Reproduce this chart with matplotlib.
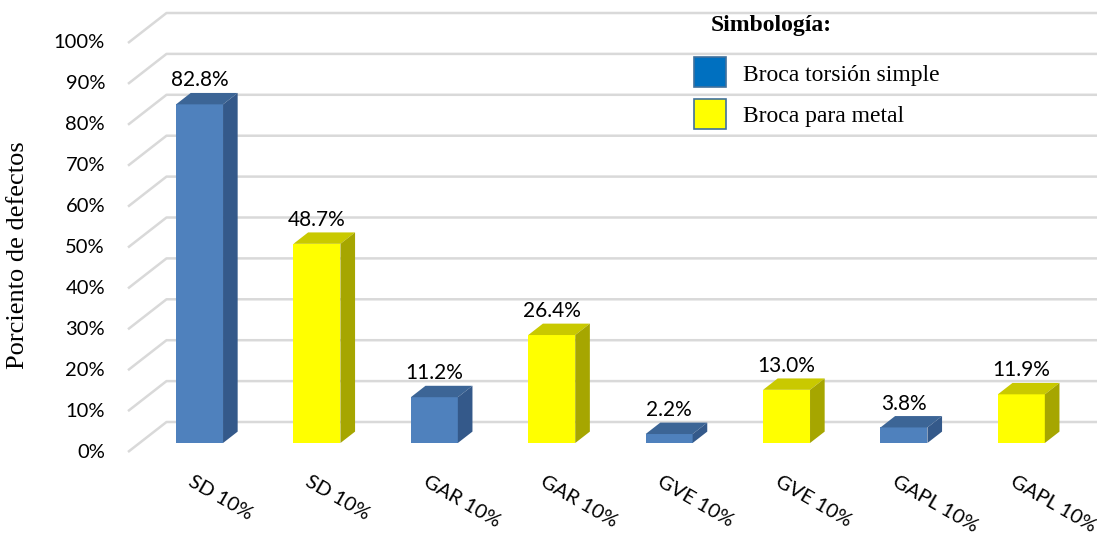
import matplotlib
matplotlib.use("Agg")
import matplotlib.pyplot as plt
from matplotlib.patches import Polygon, Rectangle

# ---- data ----
categories = ["SD 10%", "SD 10%", "GAR 10%", "GAR 10%",
              "GVE 10%", "GVE 10%", "GAPL 10%", "GAPL 10%"]
values = [82.8, 48.7, 11.2, 26.4, 2.2, 13.0, 3.8, 11.9]
series = ["Broca torsión simple", "Broca para metal"]
series_of_bar = [0, 1, 0, 1, 0, 1, 0, 1]
y_ticks = [0, 10, 20, 30, 40, 50, 60, 70, 80, 90, 100]

# ---- styling ----
FRONT = ["#4F81BD", "#FFFF00"]
TOP = ["#3C6596", "#C9C900"]
SIDE = ["#34598A", "#A6A600"]
LEGEND_FILL = ["#0070C0", "#FFFF00"]
GRID = "#D9D9D9"
NUM_FONT = ["Lato", "DejaVu Sans"]
SERIF = ["Liberation Serif", "DejaVu Serif"]

W, H, DPI = 1097, 537, 100
fig = plt.figure(figsize=(W / DPI, H / DPI), dpi=DPI)
ax = fig.add_axes([0, 0, 1, 1])
ax.set_axis_off()

# oblique projection: one category = PX pixels, one percent = PY pixels
PX, PY = 117.4, 4.09
X0_PX, Y0_PX = 188.0, 452.0
ax.set_xlim(-X0_PX / PX, (W - X0_PX) / PX)
ax.set_ylim((Y0_PX - H) / PY, Y0_PX / PY)

# full depth vector in data units
DX, DY = 38.5 / PX, 30.0 / PY
BAR_D0, BAR_T = 0.30, 0.38     # bar front depth and thickness (fraction of depth)
BAR_W = 0.40

wall_x = (128 - X0_PX) / PX
x_right = ax.get_xlim()[1]

# gridlines: diagonal on the side wall, horizontal on the back wall
for t in y_ticks:
    ax.plot([wall_x, wall_x + DX, x_right], [t, t + DY, t + DY],
            color=GRID, lw=1.8, solid_capstyle="butt", zorder=1)
    ax.text(wall_x - 23 / PX, t, f"{t}%", ha="right", va="center",
            fontsize=14.5, family=NUM_FONT, color="#000000")

# bars
for i, (v, s) in enumerate(zip(values, series_of_bar)):
    xl = i + BAR_D0 * DX - BAR_W / 2
    xr = xl + BAR_W
    bot = BAR_D0 * DY
    top = v + bot
    tdx, tdy = BAR_T * DX, BAR_T * DY
    ax.bar(xl, v, width=BAR_W, bottom=bot, align="edge",
           color=FRONT[s], linewidth=0, zorder=3)
    ax.add_patch(Polygon([(xl, top), (xr, top), (xr + tdx, top + tdy),
                          (xl + tdx, top + tdy)], closed=True,
                         facecolor=TOP[s], linewidth=0, zorder=3))
    ax.add_patch(Polygon([(xr, bot), (xr + tdx, bot + tdy),
                          (xr + tdx, top + tdy), (xr, top)], closed=True,
                         facecolor=SIDE[s], linewidth=0, zorder=3))
    # value label above the bar
    ax.text((xl + xr) / 2, top + tdy + 1.6, f"{v:.1f}%", ha="center",
            va="baseline", fontsize=15, family=NUM_FONT, zorder=4)
    # category label, rotated
    ax.text((xl + xr) / 2 - 10 / PX, -7.0, categories[i], rotation=-30,
            rotation_mode="anchor", ha="left", va="center",
            fontsize=14.5, family=NUM_FONT)

# y axis title
fig.text(18 / W, 1 - 255 / H, "Porciento de defectos", rotation=90,
         ha="center", va="center", fontsize=19, family=SERIF)

# legend block
fig.text(771 / W, 1 - 25 / H, "Simbología:", ha="center", va="center",
         fontsize=17, fontweight="bold", family=SERIF)
for k, name in enumerate(series):
    y_top = 57 + 42 * k
    fig.patches.append(Rectangle((694 / W, 1 - (y_top + 30) / H), 32 / W, 30 / H,
                                 transform=fig.transFigure, facecolor=LEGEND_FILL[k],
                                 edgecolor="#41719C", linewidth=1.2))
    fig.text(743 / W, 1 - (y_top + 18) / H, name, ha="left", va="center",
             fontsize=17, family=SERIF)

fig.savefig("out.png", dpi=DPI)
